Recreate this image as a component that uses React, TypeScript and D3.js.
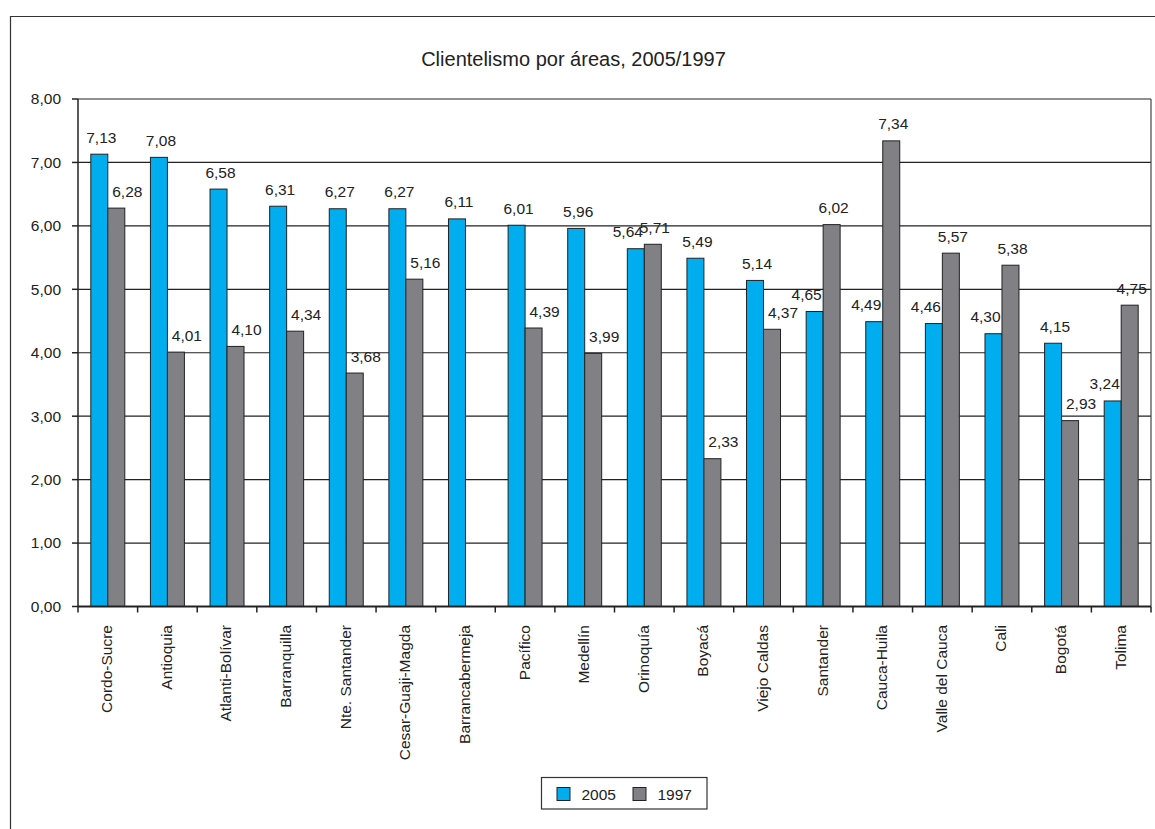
import React from "react";
import * as d3 from "d3";

const categories = [
  "Cordo-Sucre", "Antioquia", "Atlanti-Bolívar", "Barranquilla", "Nte. Santander",
  "Cesar-Guaji-Magda", "Barrancabermeja", "Pacífico", "Medellín", "Orinoquía",
  "Boyacá", "Viejo Caldas", "Santander", "Cauca-Huila", "Valle del Cauca",
  "Cali", "Bogotá", "Tolima",
];
const values2005: (number | null)[] = [
  7.13, 7.08, 6.58, 6.31, 6.27, 6.27, 6.11, 6.01, 5.96, 5.64, 5.49, 5.14, 4.65, 4.49, 4.46, 4.30, 4.15, 3.24,
];
const values1997: (number | null)[] = [
  6.28, 4.01, 4.10, 4.34, 3.68, 5.16, null, 4.39, 3.99, 5.71, 2.33, 4.37, 6.02, 7.34, 5.57, 5.38, 2.93, 4.75,
];
const seriesNames = ["2005", "1997"];
const seriesColors = ["#00ADEF", "#808085"];
const yTicks = [0, 1, 2, 3, 4, 5, 6, 7, 8];
const title = "Clientelismo por áreas, 2005/1997";

const W = 1155;
const H = 829;
const FONT = "'Liberation Sans', Arial, sans-serif";
const fmt = (v: number) => v.toFixed(2).replace(".", ",");

export default function App() {
  const left = 78, right = 1151, top = 99, bottom = 606.5;
  const x = d3.scaleBand<string>().domain(categories).range([left, right]).paddingInner(0.43).paddingOuter(0.215);
  const xs = d3.scaleBand<string>().domain(seriesNames).range([0, x.bandwidth()]);
  const y = d3.scaleLinear().domain([0, 8]).range([bottom, top]);
  const step = x.step();
  const series = [values2005, values1997];

  const bars: React.ReactNode[] = [];
  const labels: React.ReactNode[] = [];
  categories.forEach((c, i) => {
    series.forEach((vals, s) => {
      const v = vals[i];
      if (v == null) return;
      const other = series[1 - s][i];
      const bx = (x(c) as number) + (xs(seriesNames[s]) as number);
      const bw = xs.bandwidth();
      bars.push(
        <rect key={`b${s}-${i}`} x={bx} y={y(v)} width={bw} height={bottom - y(v)}
          fill={seriesColors[s]} stroke="#222" strokeWidth={1} />
      );
      let dx = 2;
      if (other != null && other > v) dx = s === 0 ? -8 : 11;
      labels.push(
        <text key={`l${s}-${i}`} x={bx + bw / 2 + dx} y={y(v) - 11.5} textAnchor="middle"
          fontSize={15.5} fill="#222">{fmt(v)}</text>
      );
    });
  });

  return (
    <div style={{ position: "fixed", left: 0, top: 0 }}>
      <svg width={W} height={H} style={{ display: "block", fontFamily: FONT }}>
        <rect x={0} y={0} width={W} height={H} fill="#fff" />
        {/* outer frame */}
        <path d={`M10.5,${H + 2} V16.5 H${W + 2}`} fill="none" stroke="#333" strokeWidth={1.2} />
        <text x={573.5} y={65.5} textAnchor="middle" fontSize={20} fill="#222">{title}</text>

        {/* gridlines */}
        {yTicks.map((t) => (
          <line key={`g${t}`} x1={left} x2={right} y1={y(t)} y2={y(t)} stroke="#222" strokeWidth={1.2} />
        ))}
        {/* right plot border */}
        <line x1={right} x2={right} y1={top} y2={bottom} stroke="#444" strokeWidth={1.2} />

        {bars}
        {labels}

        {/* y axis */}
        <line x1={left} x2={left} y1={top} y2={bottom} stroke="#222" strokeWidth={1.5} />
        {yTicks.map((t) => (
          <g key={`yt${t}`}>
            <line x1={left - 6} x2={left} y1={y(t)} y2={y(t)} stroke="#222" strokeWidth={1.5} />
            <text x={61} y={y(t)} dy="0.35em" textAnchor="end" fontSize={15.5} fill="#222">{fmt(t)}</text>
          </g>
        ))}

        {/* x axis */}
        <line x1={left} x2={right} y1={bottom} y2={bottom} stroke="#222" strokeWidth={1.8} />
        {d3.range(categories.length + 1).map((i) => (
          <line key={`xt${i}`} x1={left + i * step} x2={left + i * step} y1={bottom} y2={bottom + 6}
            stroke="#222" strokeWidth={1.5} />
        ))}
        {categories.map((c) => {
          const cx = (x(c) as number) + x.bandwidth() / 2 - 1;
          return (
            <text key={`xl${c}`} transform={`translate(${cx},625) rotate(-90)`} dy="0.35em"
              textAnchor="end" fontSize={15.5} fill="#222">{c}</text>
          );
        })}

        {/* legend */}
        <rect x={541.5} y={777.5} width={165.5} height={31.5} fill="#fff" stroke="#333" strokeWidth={1.2} />
        {seriesNames.map((n, s) => (
          <g key={`lg${n}`} transform={`translate(${557 + s * 76},787.5)`}>
            <rect x={0} y={0} width={13} height={13} fill={seriesColors[s]} stroke="#222" strokeWidth={1} />
            <text x={24.5} y={12} fontSize={15.5} fill="#222">{n}</text>
          </g>
        ))}
      </svg>
    </div>
  );
}
